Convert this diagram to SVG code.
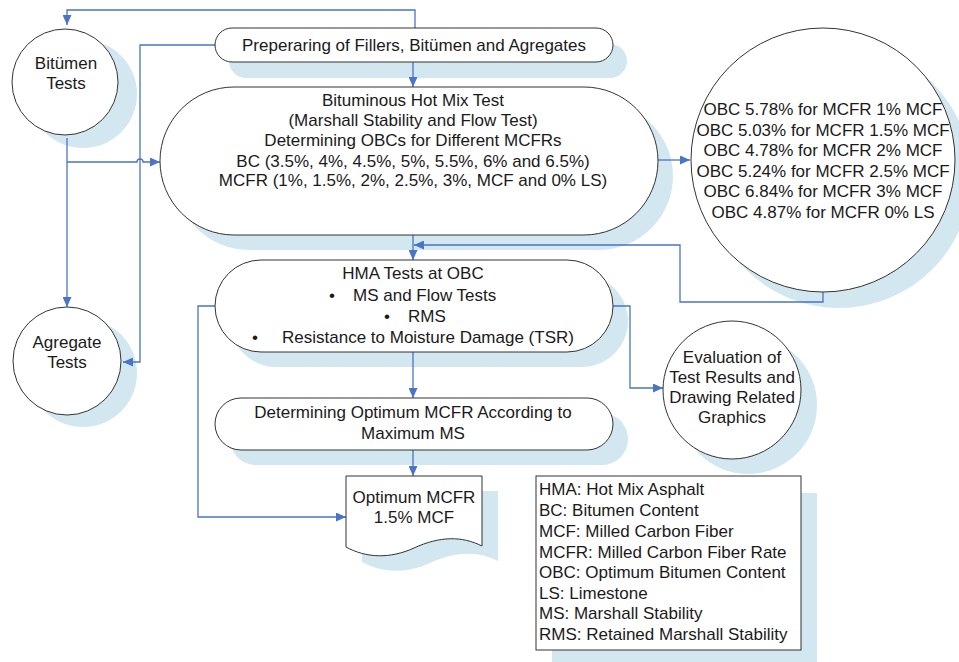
<svg xmlns="http://www.w3.org/2000/svg" width="959" height="662" viewBox="0 0 959 662">
<defs>
<marker id="arr" markerUnits="userSpaceOnUse" markerWidth="11" markerHeight="9" refX="10" refY="4.5" orient="auto">
<path d="M0,0 L10,4.5 L0,9 z" fill="#4a74c4"/>
</marker>
</defs>
<style>
.sh{fill:#d2e7ef;stroke:none}
.nd{fill:#fff;stroke:#333;stroke-width:1}
.t{font-family:"Liberation Sans",Arial,sans-serif;font-size:17px;fill:#1a1a1a;text-anchor:middle}
.l{font-family:"Liberation Sans",Arial,sans-serif;font-size:17px;fill:#1a1a1a;text-anchor:start}
.c{fill:none;stroke:#4a74c4;stroke-width:1.3}
</style>
<rect width="959" height="662" fill="#fff"/>

<g id="shadows">
<circle class="sh" cx="83" cy="94" r="54"/>
<circle class="sh" cx="83" cy="373" r="54"/>
<rect class="sh" x="229" y="44" width="398" height="34" rx="17"/>
<rect class="sh" x="175" y="102" width="498" height="148" rx="74"/>
<circle class="sh" cx="839" cy="176" r="132"/>
<rect class="sh" x="230" y="275" width="398" height="92" rx="46"/>
<circle class="sh" cx="748" cy="405" r="69"/>
<rect class="sh" x="230" y="413" width="398" height="52" rx="26"/>
<path class="sh" d="M362,491 H498 V561 C478,551 456,551 430,563 C406,574 382,573 362,562 Z"/>
<rect class="sh" x="552" y="493" width="265" height="174"/>
</g>

<g id="connectors">
<path class="c" d="M415,28 V10 H67 V25" marker-end="url(#arr)"/>
<path class="c" d="M215,45 H140 V362 H123" marker-end="url(#arr)"/>
<path class="c" d="M413,62 V87" marker-end="url(#arr)"/>
<path class="c" d="M67,138 V307" marker-end="url(#arr)"/>
<path class="c" d="M67,162 H137 A3,3 0 0 1 143,162 H160" marker-end="url(#arr)"/>
<path class="c" d="M658,160 H690" marker-end="url(#arr)"/>
<path class="c" d="M823,292 V302 H680 V245 H414" marker-end="url(#arr)"/>
<path class="c" d="M413,235 V260" marker-end="url(#arr)"/>
<path class="c" d="M215,306 H198 V517 H346" marker-end="url(#arr)"/>
<path class="c" d="M613,306 H630 V388 H663" marker-end="url(#arr)"/>
<path class="c" d="M413,352 V398" marker-end="url(#arr)"/>
<path class="c" d="M413,450 V476" marker-end="url(#arr)"/>
</g>

<g id="bitumen-tests">
<circle class="nd" cx="65" cy="82" r="53"/>
<text class="t" x="66" y="69">Bitümen</text>
<text class="t" x="66" y="89">Tests</text>
</g>

<g id="agregate-tests">
<circle class="nd" cx="67" cy="361" r="54"/>
<text class="t" x="67" y="348">Agregate</text>
<text class="t" x="67" y="368">Tests</text>
</g>

<g id="preparing">
<rect class="nd" x="215" y="28" width="398" height="34" rx="17"/>
<text class="t" x="414" y="51">Preperaring of Fillers, Bitümen and Agregates</text>
</g>

<g id="bituminous">
<rect class="nd" x="160" y="87" width="498" height="148" rx="74"/>
<text class="t" x="413" y="106">Bituminous Hot Mix Test</text>
<text class="t" x="413" y="126">(Marshall Stability and Flow Test)</text>
<text class="t" x="413" y="146">Determining OBCs for Different MCFRs</text>
<text class="t" x="413" y="167">BC (3.5%, 4%, 4.5%, 5%, 5.5%, 6% and 6.5%)</text>
<text class="t" x="413" y="186">MCFR (1%, 1.5%, 2%, 2.5%, 3%, MCF and 0% LS)</text>
</g>

<g id="obc">
<circle class="nd" cx="823" cy="160" r="132"/>
<text class="t" x="823" y="115">OBC 5.78% for MCFR 1% MCF</text>
<text class="t" x="823" y="136">OBC 5.03% for MCFR 1.5% MCF</text>
<text class="t" x="823" y="156">OBC 4.78% for MCFR 2% MCF</text>
<text class="t" x="823" y="177">OBC 5.24% for MCFR 2.5% MCF</text>
<text class="t" x="823" y="197">OBC 6.84% for MCFR 3% MCF</text>
<text class="t" x="823" y="218">OBC 4.87% for MCFR 0% LS</text>
</g>

<g id="hma-tests">
<rect class="nd" x="215" y="260" width="398" height="92" rx="46"/>
<text class="t" x="413" y="279">HMA Tests at OBC</text>
<text class="l" x="329" y="301">•</text>
<text class="l" x="353" y="301">MS and Flow Tests</text>
<text class="l" x="384" y="322">•</text>
<text class="l" x="408" y="322">RMS</text>
<text class="l" x="252" y="343">•</text>
<text class="l" x="282" y="343">Resistance to Moisture Damage (TSR)</text>
</g>

<g id="evaluation">
<circle class="nd" cx="732" cy="390" r="69"/>
<text class="t" x="732" y="363">Evaluation of</text>
<text class="t" x="732" y="383">Test Results and</text>
<text class="t" x="732" y="403">Drawing Related</text>
<text class="t" x="732" y="423">Graphics</text>
</g>

<g id="determining">
<rect class="nd" x="215" y="398" width="398" height="52" rx="26"/>
<text class="t" x="413" y="418">Determining Optimum MCFR According to</text>
<text class="t" x="413" y="439">Maximum MS</text>
</g>

<g id="optimum">
<path class="nd" d="M346,476 H482 V546 C462,536 440,536 414,548 C390,559 366,558 346,547 Z"/>
<text class="t" x="414" y="503">Optimum MCFR</text>
<text class="t" x="414" y="523">1.5% MCF</text>
</g>

<g id="legend">
<rect class="nd" x="536" y="476" width="265" height="174"/>
<text class="l" x="539" y="495">HMA: Hot Mix Asphalt</text>
<text class="l" x="539" y="516">BC: Bitumen Content</text>
<text class="l" x="539" y="537">MCF: Milled Carbon Fiber</text>
<text class="l" x="539" y="558">MCFR: Milled Carbon Fiber Rate</text>
<text class="l" x="539" y="578">OBC: Optimum Bitumen Content</text>
<text class="l" x="539" y="599">LS: Limestone</text>
<text class="l" x="539" y="619">MS: Marshall Stability</text>
<text class="l" x="539" y="640">RMS: Retained Marshall Stability</text>
</g>
</svg>
